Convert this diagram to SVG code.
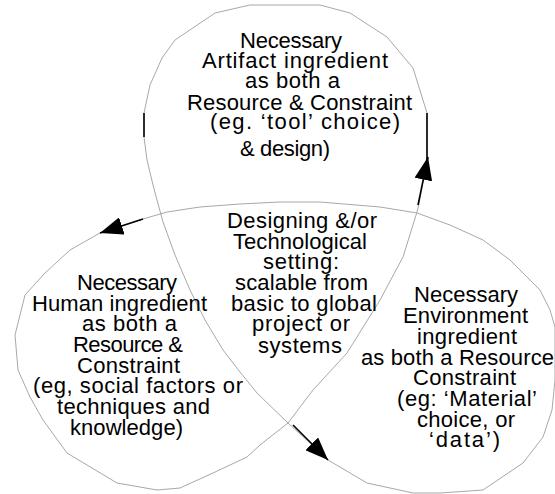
<svg xmlns="http://www.w3.org/2000/svg" width="555" height="494" viewBox="0 0 555 494">
  <style>
    .label { font-family: "Liberation Sans", Arial, sans-serif; font-size: 22px; fill: #000; }
    .outline { fill: none; stroke: #a8a8a8; stroke-width: 1; stroke-linejoin: round; }
    .mark { fill: none; stroke: #000; stroke-width: 1.6; }
    .arrow { fill: none; stroke: #000; stroke-width: 1.6; marker-end: url(#head); }
  </style>
  <defs>
    <marker id="head" markerWidth="23" markerHeight="18" refX="23" refY="9" orient="auto" markerUnits="userSpaceOnUse">
      <path d="M0,0 L23,9 L0,18 z" fill="#000"/>
    </marker>
  </defs>
  <rect width="555" height="494" fill="#fff"/>

  <!-- single closed trefoil outline forming the three lobes and the shared centre -->
  <g id="trefoil">
    <path class="outline" d="M250,5 L215,13 L175,40 L162,58 L150,85 L144,113 L144,137 L147,160 L153,185 L157,200 L163,222 L175,255 L190,290 L205,320 L223,350 L240,372 L257,393 L288,423 L310,443 L328,460 L345,470 L367,483 L413,493 L440,493 L483,490 L523,463 L543,437 L552,410 L555,380 L555,327 L550,310 L540,290 L510,260 L483,240 L450,225 L417,213 L380,207 L320,202 L280,202 L240,204 L200,207 L167,212 L143,219 L100,233 L70,250 L45,273 L25,295 L15,335 L18,370 L30,397 L43,420 L67,453 L117,483 L157,490 L180,488 L213,473 L247,457 L260,445 L288,423 L313,390 L347,353 L380,300 L403,257 L417,212 L419,204 L427,158 L427,113 L413,68 L387,37 L350,13 L320,5 Z"/>
  </g>

  <g id="connectors">
    <line class="mark" x1="144" y1="113" x2="144" y2="137"/>
    <line class="mark" x1="427" y1="113" x2="427" y2="160"/>
    <line class="arrow" x1="418" y1="205" x2="428" y2="157"/>
    <line class="arrow" x1="143" y1="219" x2="100" y2="233"/>
    <line class="arrow" x1="293" y1="425" x2="328" y2="460"/>
  </g>

  <g id="artifact">
    <text class="label" x="240" y="48" textLength="102" lengthAdjust="spacing">Necessary</text>
    <text class="label" x="202" y="68" textLength="186" lengthAdjust="spacing">Artifact ingredient</text>
    <text class="label" x="245" y="88" textLength="95" lengthAdjust="spacing">as both a</text>
    <text class="label" x="187" y="110" textLength="225" lengthAdjust="spacing">Resource &amp; Constraint</text>
    <text class="label" x="210" y="129" textLength="190" lengthAdjust="spacing">(eg. ‘tool’ choice)</text>
    <text class="label" x="240" y="156" textLength="90" lengthAdjust="spacing">&amp; design)</text>
  </g>

  <g id="setting">
    <text class="label" x="227" y="228" textLength="150" lengthAdjust="spacing">Designing &amp;/or</text>
    <text class="label" x="233" y="249" textLength="134" lengthAdjust="spacing">Technological</text>
    <text class="label" x="263" y="269" textLength="76" lengthAdjust="spacing">setting:</text>
    <text class="label" x="235" y="290" textLength="133" lengthAdjust="spacing">scalable from</text>
    <text class="label" x="231" y="311" textLength="146" lengthAdjust="spacing">basic to global</text>
    <text class="label" x="252" y="331" textLength="98" lengthAdjust="spacing">project or</text>
    <text class="label" x="258" y="353" textLength="84" lengthAdjust="spacing">systems</text>
  </g>

  <g id="human">
    <text class="label" x="77" y="290" textLength="100" lengthAdjust="spacing">Necessary</text>
    <text class="label" x="32" y="311" textLength="175" lengthAdjust="spacing">Human ingredient</text>
    <text class="label" x="82" y="331" textLength="95" lengthAdjust="spacing">as both a</text>
    <text class="label" x="73" y="352" textLength="110" lengthAdjust="spacing">Resource &amp;</text>
    <text class="label" x="77" y="373" textLength="103" lengthAdjust="spacing">Constraint</text>
    <text class="label" x="33" y="393" textLength="210" lengthAdjust="spacing">(eg, social factors or</text>
    <text class="label" x="57" y="414" textLength="153" lengthAdjust="spacing">techniques and</text>
    <text class="label" x="70" y="435" textLength="113" lengthAdjust="spacing">knowledge)</text>
  </g>

  <g id="environment">
    <text class="label" x="414" y="302" textLength="104" lengthAdjust="spacing">Necessary</text>
    <text class="label" x="403" y="323" textLength="125" lengthAdjust="spacing">Environment</text>
    <text class="label" x="417" y="344" textLength="100" lengthAdjust="spacing">ingredient</text>
    <text class="label" x="361" y="365" textLength="193" lengthAdjust="spacing">as both a Resource</text>
    <text class="label" x="413" y="385" textLength="103" lengthAdjust="spacing">Constraint</text>
    <text class="label" x="397" y="406" textLength="140" lengthAdjust="spacing">(eg: ‘Material’</text>
    <text class="label" x="417" y="427" textLength="98" lengthAdjust="spacing">choice, or</text>
    <text class="label" x="429" y="447" textLength="71" lengthAdjust="spacing">‘data’)</text>
  </g>
</svg>
